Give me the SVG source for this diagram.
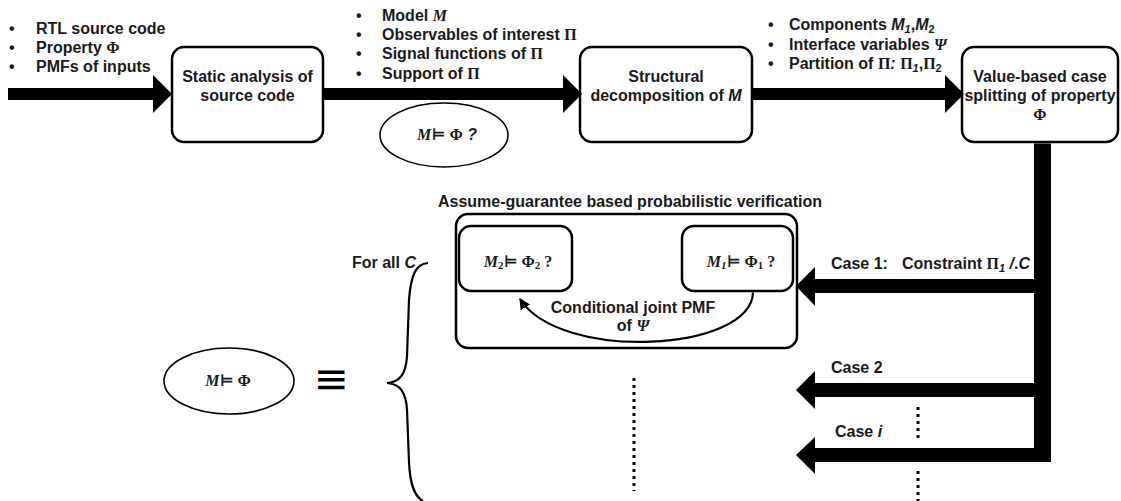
<svg xmlns="http://www.w3.org/2000/svg" width="1121" height="501" viewBox="0 0 1121 501">
  <style>
    .t { font-family: "Liberation Sans", Arial, sans-serif; font-weight: bold; font-size: 16px; fill: #1a1a1a; }
    .c { text-anchor: middle; }
    .m { font-family: "Liberation Serif", "DejaVu Serif", serif; font-weight: bold; }
    .mi { font-family: "Liberation Serif", "DejaVu Serif", serif; font-weight: bold; font-style: italic; }
    .it { font-style: italic; }
    .box { fill: #fff; stroke: #000; stroke-width: 2.5; }
    .oval { fill: #fff; stroke: #000; stroke-width: 1.6; }
    .bar { fill: #000; }
    .dots { fill: none; stroke: #000; stroke-width: 3; stroke-dasharray: 3 4; }
    .thin { fill: none; stroke: #000; stroke-width: 2.2; }
  </style>
  <defs>
    <marker id="tip" viewBox="0 0 10 10" refX="9" refY="5" markerWidth="5" markerHeight="5" orient="auto">
      <path d="M0,0 L10,5 L0,10 z" fill="#000"/>
    </marker>
  </defs>
  <rect width="1121" height="501" fill="#fff"/>

  <!-- inputs -->
  <g id="inputs">
    <text class="t" x="9" y="34">•</text>
    <text class="t" x="36" y="34">RTL source code</text>
    <text class="t" x="9" y="53">•</text>
    <text class="t" x="36" y="53">Property <tspan class="m">Φ</tspan></text>
    <text class="t" x="9" y="72">•</text>
    <text class="t" x="36" y="72">PMFs of inputs</text>
  </g>

  <g id="static-analysis">
    <rect class="box" x="172" y="47" width="151" height="95" rx="12"/>
    <text class="t c" x="247.5" y="82">Static analysis of</text>
    <text class="t c" x="247.5" y="101">source code</text>
  </g>

  <g id="analysis-outputs">
    <text class="t" x="356" y="21">•</text>
    <text class="t" x="382" y="21">Model <tspan class="mi">M</tspan></text>
    <text class="t" x="356" y="40">•</text>
    <text class="t" x="382" y="40">Observables of interest <tspan class="m">Π</tspan></text>
    <text class="t" x="356" y="59">•</text>
    <text class="t" x="382" y="59">Signal functions of <tspan class="m">Π</tspan></text>
    <text class="t" x="356" y="79">•</text>
    <text class="t" x="382" y="79">Support of <tspan class="m">Π</tspan></text>
  </g>

  <g id="query">
    <ellipse class="oval" cx="444" cy="135" rx="64" ry="32"/>
    <text class="t c" x="447" y="140" style="font-size:16px"><tspan class="mi">M</tspan><tspan class="m">⊨ Φ</tspan> <tspan class="it">?</tspan></text>
  </g>

  <g id="decomposition">
    <rect class="box" x="580" y="47" width="172" height="95" rx="12"/>
    <text class="t c" x="666" y="82">Structural</text>
    <text class="t c" x="666" y="101">decomposition of <tspan class="it">M</tspan></text>
  </g>

  <g id="decomposition-outputs">
    <text class="t" x="768" y="30">•</text>
    <text class="t" x="789" y="30">Components <tspan class="it">M</tspan><tspan class="it" font-size="11" dy="3">1</tspan><tspan dy="-3">,</tspan><tspan class="it">M</tspan><tspan font-size="11" dy="3">2</tspan></text>
    <text class="t" x="768" y="50">•</text>
    <text class="t" x="789" y="50">Interface variables <tspan class="mi">Ψ</tspan></text>
    <text class="t" x="768" y="69">•</text>
    <text class="t" x="789" y="69">Partition of <tspan class="m">Π</tspan><tspan class="it">:</tspan> <tspan class="m">Π</tspan><tspan class="it" font-size="11" dy="3">1</tspan><tspan dy="-3">,</tspan><tspan class="m">Π</tspan><tspan font-size="11" dy="3">2</tspan></text>
  </g>

  <g id="case-splitting">
    <rect class="box" x="962" y="47" width="156" height="95" rx="12"/>
    <text class="t c" x="1040" y="82">Value-based case</text>
    <text class="t c" x="1040" y="101">splitting of property</text>
    <text class="t c m" x="1040" y="120">Φ</text>
  </g>

  <g id="case-labels">
    <text class="t" x="831" y="269">Case 1:</text>
    <text class="t" x="902" y="269">Constraint <tspan class="m">Π</tspan><tspan class="it" font-size="11" dy="3">1</tspan><tspan class="it" dy="-3"> /</tspan>.<tspan class="it">C</tspan></text>
    <text class="t" x="831" y="373">Case 2</text>
    <text class="t" x="835" y="437">Case <tspan class="it">i</tspan></text>
  </g>

  <g id="assume-guarantee">
    <text class="t c" x="630" y="207">Assume-guarantee based probabilistic verification</text>
    <rect class="box" x="456" y="214" width="341" height="134" rx="12"/>
    <text class="t c" x="633" y="313">Conditional joint PMF</text>
    <text class="t c" x="633" y="331">of <tspan class="mi">Ψ</tspan></text>
  </g>

  <g id="check-m2">
    <rect class="box" x="459" y="226" width="113" height="65" rx="12"/>
    <text class="t c" x="518" y="267" style="font-size:16px"><tspan class="mi">M</tspan><tspan class="m" font-size="11" dy="2">2</tspan><tspan class="m" dy="-2">⊨ Φ</tspan><tspan class="m" font-size="11" dy="2">2</tspan><tspan class="m" dy="-2"> ?</tspan></text>
  </g>

  <g id="check-m1">
    <rect class="box" x="682" y="226" width="111" height="65" rx="12"/>
    <text class="t c" x="741" y="267" style="font-size:16px"><tspan class="mi">M</tspan><tspan class="mi" font-size="11" dy="2">1</tspan><tspan class="m" dy="-2">⊨ Φ</tspan><tspan class="m" font-size="11" dy="2">1</tspan><tspan class="m" dy="-2"> ?</tspan></text>
  </g>

  <g id="for-all">
    <text class="t" x="352" y="268">For all <tspan class="it">C</tspan></text>
    <path class="thin" d="M428,263 C416,264 411,274 409,300 L407,356 C406,374 400,382 387,383 C400,384 406,392 407,410 L409,462 C410,484 414,496 423,501"/>
  </g>

  <g id="equivalence">
    <ellipse class="oval" cx="229" cy="381" rx="65" ry="33"/>
    <text class="t c" x="228" y="386" style="font-size:16px"><tspan class="mi">M</tspan><tspan class="m">⊨ Φ</tspan></text>
    <text x="331" y="393" text-anchor="middle" style="font-family:'DejaVu Sans',sans-serif;font-size:42px;fill:#000">≡</text>
  </g>

  <!-- thick flow arrows, the PMF hand-over and the elided cases -->
  <g id="connectors">
    <polygon class="bar" points="8,88 153,88 153,75 172,94 153,113 153,100 8,100"/>
    <polygon class="bar" points="324,88 563,88 563,75 582,94 563,113 563,100 324,100"/>
    <polygon class="bar" points="753,88 945,88 945,75 964,94 945,113 945,100 753,100"/>
    <!-- trunk down from the case splitting box -->
    <rect class="bar" x="1034" y="143.5" width="17" height="318.5"/>
    <polygon class="bar" points="1034,279 815,279 815,267 796,286 815,306 815,293 1034,293"/>
    <polygon class="bar" points="1034,383 815,383 815,371 796,390 815,409 815,397 1034,397"/>
    <polygon class="bar" points="1034,448 815,448 815,437 796,455 815,474 815,462 1034,462"/>
    <!-- conditional PMF handed from M1 to M2 -->
    <path class="thin" d="M753,292.5 C751,352 560,362 520,299" marker-end="url(#tip)"/>
    <line class="dots" x1="634" y1="378" x2="634" y2="491"/>
    <line class="dots" x1="918" y1="407" x2="918" y2="438"/>
    <line class="dots" x1="918" y1="471" x2="918" y2="501"/>
  </g>
</svg>
